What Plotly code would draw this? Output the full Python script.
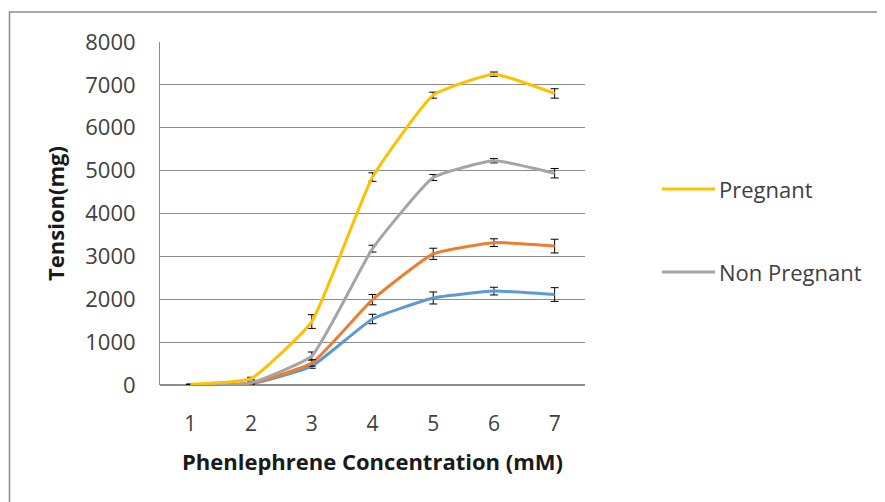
import plotly.graph_objects as go

concentration = [1, 2, 3, 4, 5, 6, 7]
tick_labels = ["1", "2", "3", "4", "5", "6", "7"]

pregnant = [20, 150, 1480, 4850, 6760, 7250, 6800]
pregnant_err = [0, 30, 160, 100, 70, 50, 110]

non_pregnant = [0, 50, 680, 3180, 4840, 5230, 4940]
non_pregnant_err = [0, 20, 90, 80, 70, 50, 110]

orange_series = [0, 40, 510, 1990, 3060, 3320, 3240]
orange_err = [0, 20, 70, 120, 130, 90, 160]

blue_series = [0, 30, 440, 1540, 2030, 2190, 2110]
blue_err = [0, 20, 50, 110, 140, 90, 160]

series = [
    ("Blue", blue_series, blue_err, "#5B9BD5"),
    ("Orange", orange_series, orange_err, "#ED7D31"),
    ("Non Pregnant", non_pregnant, non_pregnant_err, "#A5A5A5"),
    ("Pregnant", pregnant, pregnant_err, "#FFC000"),
]
legend_names = ["Pregnant", "Non Pregnant"]
legend_colors = {"Pregnant": "#FFC000", "Non Pregnant": "#A5A5A5"}

FONT = "Open Sans, Calibri, sans-serif"

# page has an 8px body margin; target plot area in window: x 160-585, y 42-385
L, T, PW, PH = 152, 34, 425, 343
W, H = 885, 502

fig = go.Figure()
for name, vals, errs, color in series:
    fig.add_trace(go.Scatter(
        x=concentration, y=vals, mode="lines", name=name,
        line=dict(color=color, width=3, shape="spline", smoothing=0.4),
        error_y=dict(type="data", array=errs, visible=True, color="#000000", thickness=1, width=4),
        showlegend=False,
    ))

fig.update_layout(
    width=W, height=H,
    margin=dict(l=L, r=W - L - PW, t=T, b=H - T - PH, autoexpand=False),
    paper_bgcolor="white", plot_bgcolor="white",
    font=dict(family=FONT, color="#404040"),
    xaxis=dict(
        range=[0.5, 7.5], tickvals=concentration, ticktext=tick_labels,
        showgrid=False, zeroline=False, showline=False, ticks="", automargin=False,
        tickfont=dict(size=21, color="#404040"), ticklabelstandoff=24,
        title=dict(text="<b>Phenlephrene Concentration (mM)</b>", font=dict(size=22, color="#1a1a1a"), standoff=18),
    ),
    yaxis=dict(
        range=[0, 8000], dtick=1000, showgrid=True, gridcolor="#8C8C8C", gridwidth=1,
        zeroline=True, zerolinecolor="#8C8C8C", showline=True, linecolor="#8C8C8C",
        ticks="", tickfont=dict(size=22, color="#404040"), ticklabelstandoff=19, automargin=False,
        title=dict(text="<b>Tension(mg)</b>", font=dict(size=22, color="#1a1a1a"), standoff=14),
    ),
    showlegend=False,
)

# legend drawn as line samples + text (window coords: lines 662-715, text at 720)
legend_y = {"Pregnant": 189, "Non Pregnant": 272}
for nm in legend_names:
    yp = (385 - legend_y[nm]) / PH
    fig.add_shape(type="line", xref="paper", yref="paper",
                  x0=(662 - 160) / PW, x1=(715 - 160) / PW, y0=yp, y1=yp,
                  line=dict(color=legend_colors[nm], width=3))
    fig.add_annotation(xref="paper", yref="paper", x=(717 - 160) / PW, y=yp,
                       text=nm, showarrow=False, xanchor="left", yanchor="middle",
                       font=dict(family=FONT, size=22, color="#404040"))

# chart frame (left and top edges visible)
fig.add_shape(type="rect", xref="paper", yref="paper",
              x0=(9.5 - 160) / PW, x1=1.9, y0=-0.6, y1=(385 - 12) / PH,
              line=dict(color="#8C8C8C", width=1.5), fillcolor="rgba(0,0,0,0)", layer="below")

fig.write_html("out.html")
